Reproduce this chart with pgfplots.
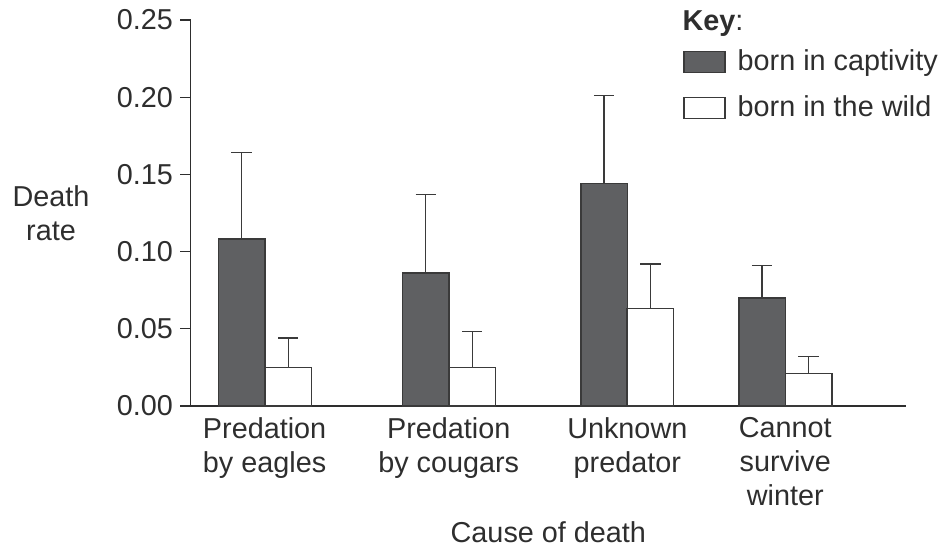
\documentclass[border=0pt]{standalone}
\usepackage{fontspec}
\setmainfont{Liberation Sans}
\usepackage{pgfplots}
\pgfplotsset{compat=1.18}
\usepackage{pgfplotstable}

\definecolor{darkbar}{HTML}{5F6062}
\definecolor{edge}{HTML}{3A3A3A}
\definecolor{txt}{HTML}{2E2E2E}

\pgfplotstableread{
x y e
241.7 0.108 0.056
425.7 0.086 0.051
604.0 0.144 0.057
762.0 0.070 0.021
}\captivity
\pgfplotstableread{
x y e
288.2 0.025 0.019
472.2 0.025 0.023
650.3 0.063 0.029
808.5 0.021 0.011
}\wild

\begin{document}
\begin{tikzpicture}[x=1pt,y=1pt, font=\fontsize{14.4}{17}\selectfont]
\begin{axis}[
  at={(95.35pt,71.5pt)}, anchor=south west,
  scale only axis, width=357.65pt, height=193pt,
  xmin=190.7, xmax=906, ymin=0, ymax=0.25,
  axis x line=bottom, axis y line=left,
  axis line style={draw=txt, line width=0.6pt, -},
  clip=false,
  tick align=outside, major tick length=5.35pt,
  ytick={0,0.05,0.1,0.15,0.2,0.25},
  y tick style={draw=txt, line width=0.6pt},
  x tick style={draw=none},
  xtick={264.6,448.7,627.3,785.3},
  xticklabels={Predation\\by eagles, Predation\\by cougars, Unknown\\predator, Cannot\\survive\\winter},
  xticklabel style={align=center, text=txt, font=\fontsize{14.4}{17}\selectfont, yshift=3pt},
  yticklabel style={text=txt, font=\fontsize{14.4}{17}\selectfont,
    /pgf/number format/fixed, /pgf/number format/fixed zerofill, /pgf/number format/precision=2},
  /pgf/number format/assume math mode=true,
  legend image code/.code={\draw[#1, line width=0.6pt] (0pt,-5.2pt) rectangle (20.5pt,5.2pt); \path (24.5pt,0pt);},
  legend style={at={(rel axis cs:0.6798,0.944)}, anchor=north west, draw=none, fill=none,
    font=\fontsize{14.4}{17}\selectfont, text=txt, row sep=7pt},
  legend cell align=left,
]
\addplot[ybar, bar width=46.5, bar shift=0pt, fill=darkbar, draw=edge, line width=0.75pt,
  error bars/.cd, y dir=plus, y explicit,
  error bar style={draw=edge, line width=0.6pt},
  error mark options={draw=edge, line width=0.6pt, mark size=5.1pt, rotate=90}]
  table[x=x, y=y, y error=e]{\captivity};
\addlegendentry{born in captivity}
\addplot[ybar, bar width=46.5, bar shift=0pt, fill=white, draw=edge, line width=0.75pt,
  error bars/.cd, y dir=plus, y explicit,
  error bar style={draw=edge, line width=0.6pt},
  error mark options={draw=edge, line width=0.6pt, mark size=5.1pt, rotate=90}]
  table[x=x, y=y, y error=e]{\wild};
\addlegendentry{born in the wild}
\node[text=txt, align=center] at (axis description cs:-0.1953,0.5) {Death\\rate};
\node[text=txt, anchor=base] at (axis description cs:0.5,-0.3549) {Cause of death};
\node[text=txt, anchor=base west, inner sep=0pt] at (axis description cs:0.687,0.9715) {\textbf{Key}:};
\end{axis}
\pgfresetboundingbox
\path[use as bounding box] (0pt,0pt) rectangle (470.5pt,274.5pt);
\end{tikzpicture}
\end{document}
